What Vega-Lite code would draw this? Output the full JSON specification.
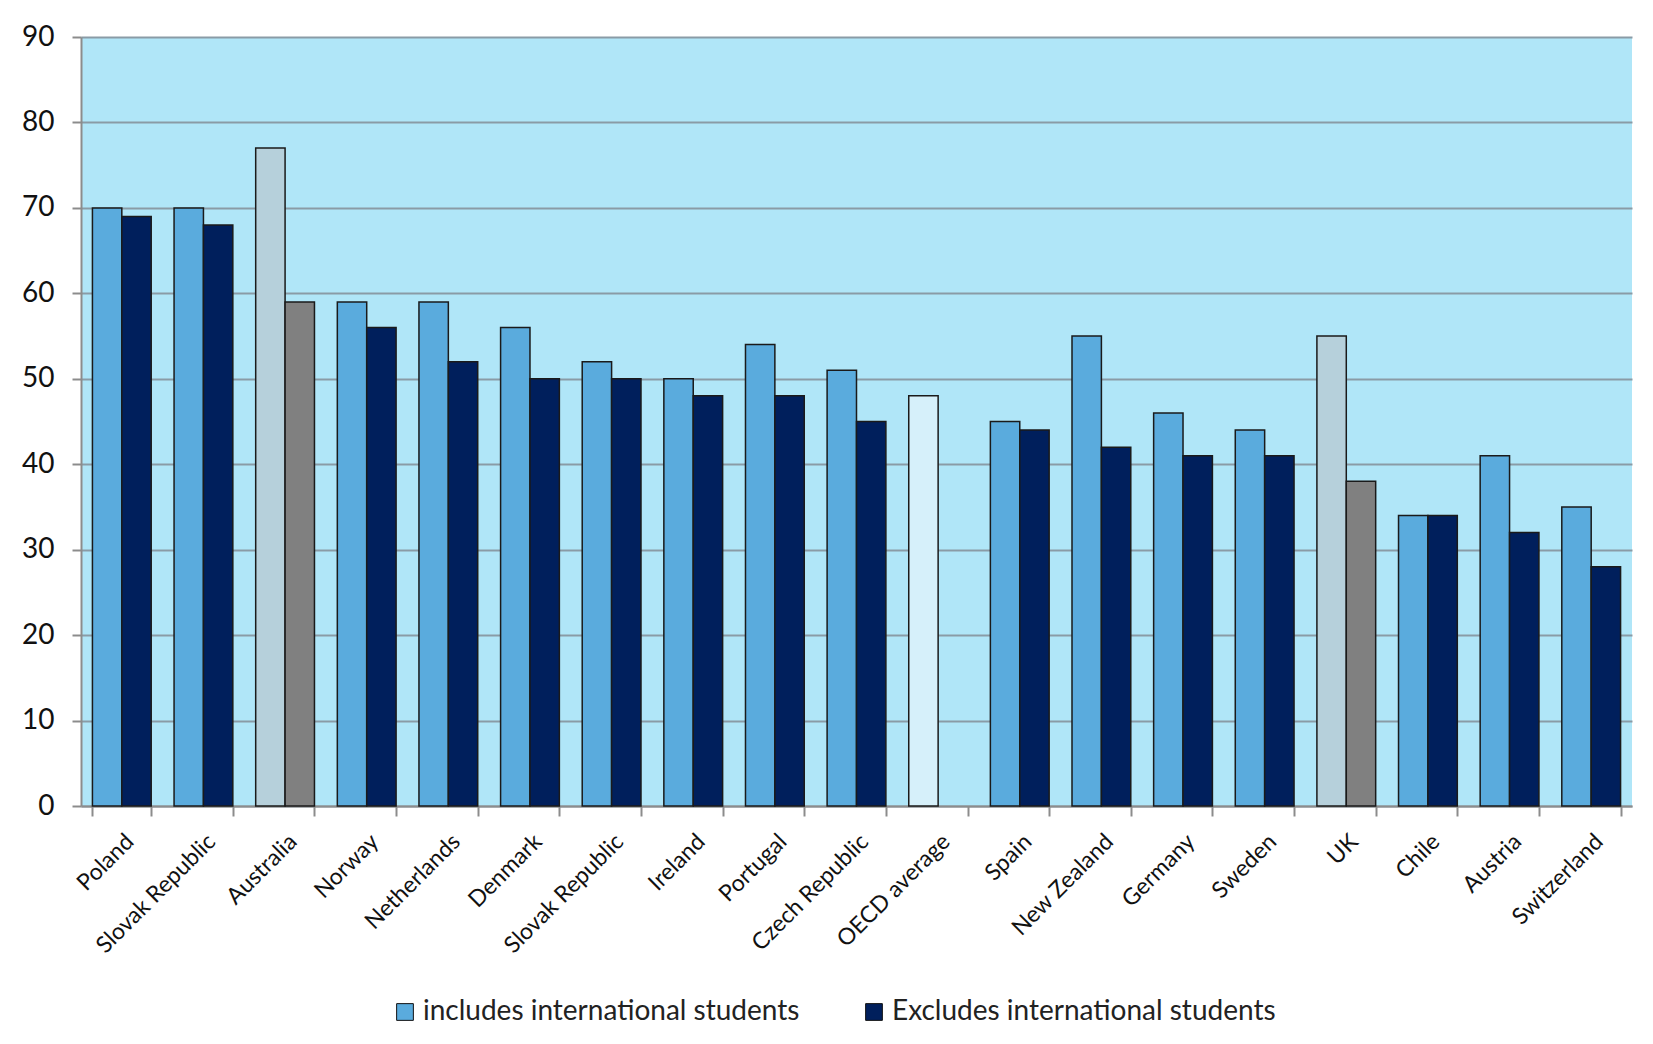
{
  "$schema": "https://vega.github.io/schema/vega-lite/v6.json",
  "autosize": {"type": "none"},
  "width": 1551,
  "height": 769,
  "padding": {"left": 81, "top": 37, "right": 21, "bottom": 238},
  "background": "white",
  "config": {"font": "Lato", "view": {"fill": "#b0e6f8", "stroke": null}},
  "data": {
    "values": [
      {"country": "Poland", "series": "includes", "kind": "includes", "value": 70},
      {"country": "Poland", "series": "excludes", "kind": "excludes", "value": 69},
      {"country": "Slovak Republic", "series": "includes", "kind": "includes", "value": 70},
      {"country": "Slovak Republic", "series": "excludes", "kind": "excludes", "value": 68},
      {"country": "Australia", "series": "includes", "kind": "includes (highlighted)", "value": 77},
      {"country": "Australia", "series": "excludes", "kind": "excludes (highlighted)", "value": 59},
      {"country": "Norway", "series": "includes", "kind": "includes", "value": 59},
      {"country": "Norway", "series": "excludes", "kind": "excludes", "value": 56},
      {"country": "Netherlands", "series": "includes", "kind": "includes", "value": 59},
      {"country": "Netherlands", "series": "excludes", "kind": "excludes", "value": 52},
      {"country": "Denmark", "series": "includes", "kind": "includes", "value": 56},
      {"country": "Denmark", "series": "excludes", "kind": "excludes", "value": 50},
      {"country": "Slovak Republic ", "series": "includes", "kind": "includes", "value": 52},
      {"country": "Slovak Republic ", "series": "excludes", "kind": "excludes", "value": 50},
      {"country": "Ireland", "series": "includes", "kind": "includes", "value": 50},
      {"country": "Ireland", "series": "excludes", "kind": "excludes", "value": 48},
      {"country": "Portugal", "series": "includes", "kind": "includes", "value": 54},
      {"country": "Portugal", "series": "excludes", "kind": "excludes", "value": 48},
      {"country": "Czech Republic", "series": "includes", "kind": "includes", "value": 51},
      {"country": "Czech Republic", "series": "excludes", "kind": "excludes", "value": 45},
      {"country": "OECD average", "series": "includes", "kind": "average", "value": 48},
      {"country": "Spain", "series": "includes", "kind": "includes", "value": 45},
      {"country": "Spain", "series": "excludes", "kind": "excludes", "value": 44},
      {"country": "New Zealand", "series": "includes", "kind": "includes", "value": 55},
      {"country": "New Zealand", "series": "excludes", "kind": "excludes", "value": 42},
      {"country": "Germany", "series": "includes", "kind": "includes", "value": 46},
      {"country": "Germany", "series": "excludes", "kind": "excludes", "value": 41},
      {"country": "Sweden", "series": "includes", "kind": "includes", "value": 44},
      {"country": "Sweden", "series": "excludes", "kind": "excludes", "value": 41},
      {"country": "UK", "series": "includes", "kind": "includes (highlighted)", "value": 55},
      {"country": "UK", "series": "excludes", "kind": "excludes (highlighted)", "value": 38},
      {"country": "Chile", "series": "includes", "kind": "includes", "value": 34},
      {"country": "Chile", "series": "excludes", "kind": "excludes", "value": 34},
      {"country": "Austria", "series": "includes", "kind": "includes", "value": 41},
      {"country": "Austria", "series": "excludes", "kind": "excludes", "value": 32},
      {"country": "Switzerland", "series": "includes", "kind": "includes", "value": 35},
      {"country": "Switzerland", "series": "excludes", "kind": "excludes", "value": 28}
    ]
  },
  "mark": {"type": "bar", "stroke": "#1a1a1a", "strokeWidth": 1.5},
  "encoding": {
    "x": {
      "field": "country",
      "type": "nominal",
      "sort": null,
      "scale": {"paddingInner": 0.28, "paddingOuter": 0.14},
      "axis": {
        "title": null,
        "labelAngle": -45,
        "labelFontSize": 23,
        "labelColor": "#111111",
        "labelPadding": 14,
        "labelDx": -5,
        "labelLimit": 0,
        "domainColor": "#8c8c8c",
        "domainWidth": 2,
        "tickColor": "#8c8c8c",
        "tickWidth": 2,
        "tickSize": 10,
        "tickBand": "extent",
        "grid": false
      }
    },
    "xOffset": {"field": "series", "type": "nominal", "sort": ["includes", "excludes"]},
    "y": {
      "field": "value",
      "type": "quantitative",
      "scale": {"domain": [0, 90], "nice": false},
      "axis": {
        "title": null,
        "values": [0, 10, 20, 30, 40, 50, 60, 70, 80, 90],
        "labelFontSize": 28,
        "labelColor": "#111111",
        "labelPadding": 18,
        "domainColor": "#8c8c8c",
        "domainWidth": 2,
        "tickColor": "#8c8c8c",
        "tickWidth": 2,
        "tickSize": 9,
        "gridColor": "#8a9ba6",
        "gridWidth": 2
      }
    },
    "color": {
      "field": "kind",
      "type": "nominal",
      "scale": {
        "domain": ["includes", "excludes", "includes (highlighted)", "excludes (highlighted)", "average"],
        "range": ["#5aabdd", "#001f5c", "#b6d0db", "#808080", "#d6f0fa"]
      },
      "legend": {
        "orient": "none",
        "legendX": 310,
        "legendY": 961,
        "direction": "horizontal",
        "title": null,
        "values": ["includes", "excludes"],
        "labelExpr": "datum.value == 'includes' ? 'includes international students' : 'Excludes international students'",
        "labelFontSize": 28,
        "labelLimit": 0,
        "labelColor": "#222222",
        "symbolType": "square",
        "symbolSize": 280,
        "symbolStrokeColor": "#111111",
        "symbolStrokeWidth": 1,
        "columnPadding": 60,
        "labelOffset": 4
      }
    }
  }
}
